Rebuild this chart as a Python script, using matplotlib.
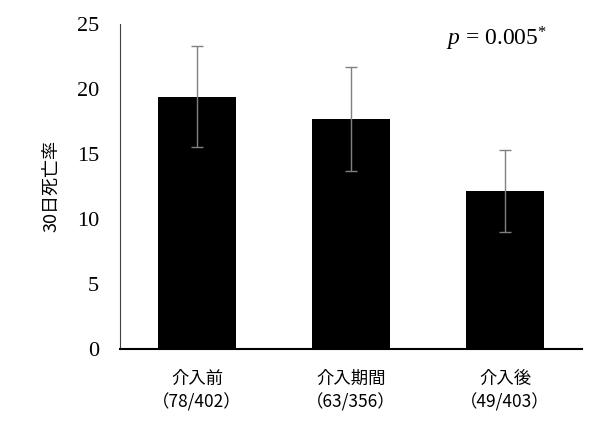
import matplotlib
matplotlib.use("Agg")
import matplotlib.pyplot as plt

plt.rcParams["mathtext.fontset"] = "custom"
plt.rcParams["mathtext.rm"] = "Liberation Serif"
plt.rcParams["mathtext.it"] = "Liberation Serif:italic"

groups = ["介入前", "介入期間", "介入後"]
counts = ["（78/402）", "（63/356）", "（49/403）"]
rates = [19.4, 17.7, 12.15]
errors = [3.9, 4.0, 3.15]

cjk = ["Noto Sans CJK JP", "DejaVu Sans"]

fig = plt.figure(figsize=(6, 4.3), dpi=100)
ax = fig.add_axes([0.2, 0.1884, 0.77, 0.756])

x = list(range(len(groups)))
ax.bar(x, rates, width=0.51, color="black")
ax.errorbar(x, rates, yerr=errors, fmt="none", ecolor="#808080",
            elinewidth=1, capsize=4.3, capthick=1)

ax.set_xlim(-0.5, 2.5)
ax.set_ylim(0, 25)
ax.set_yticks([0, 5, 10, 15, 20, 25])
ax.set_yticklabels(["0", "5", "10", "15", "20", "25"],
                   family="Liberation Serif", fontsize=16)
ax.set_xticks(x)
ax.set_xticklabels([g + "\n" + c for g, c in zip(groups, counts)],
                   family=cjk, fontsize=12.5, weight="normal",
                   linespacing=1.35)
ax.tick_params(axis="y", length=0, pad=15)
ax.tick_params(axis="x", length=0, pad=15)

ax.spines["top"].set_visible(False)
ax.spines["right"].set_visible(False)
ax.spines["left"].set_color("#404040")
ax.spines["left"].set_linewidth(0.8)
ax.spines["bottom"].set_color("black")
ax.spines["bottom"].set_linewidth(1.5)

ax.set_ylabel("30日死亡率", family=cjk, fontsize=13, weight="normal",
              labelpad=12)

ax.text(0.706, 0.955, "$\\it{p}$ = 0.005$^{*}$", transform=ax.transAxes,
        family="Liberation Serif", fontsize=17, ha="left", va="center")

fig.savefig("out.png", dpi=100)
